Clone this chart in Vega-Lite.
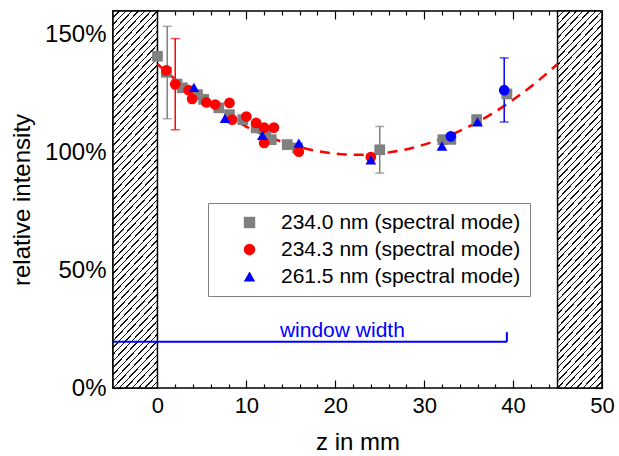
{
"$schema": "https://vega.github.io/schema/vega-lite/v6.json",
"width": 489, "height": 377,
"autosize": {"type": "none"},
"padding": {"left": 113, "top": 11, "right": 17, "bottom": 68},
"background": "white",
"config": {
 "view": {"stroke": "black", "strokeWidth": 1.5},
 "axis": {"domain": false, "grid": false, "labelFont": "Liberation Sans", "titleFont": "Liberation Sans", "labelFontSize": 22, "titleFontSize": 24, "titleFontWeight": "normal", "labelColor": "black", "titleColor": "black", "tickColor": "black", "tickWidth": 1.2, "zindex": 1}
},
"datasets": {
 "hatch": [{"z0": -5, "z1": 0}, {"z0": 45, "z1": 50}],
 "bands": [
  {"z0": -5, "z1": 0, "v0": 0, "v1": 20}, {"z0": -5, "z1": 0, "v0": 20, "v1": 40}, {"z0": -5, "z1": 0, "v0": 40, "v1": 60}, {"z0": -5, "z1": 0, "v0": 60, "v1": 80},
  {"z0": -5, "z1": 0, "v0": 80, "v1": 100}, {"z0": -5, "z1": 0, "v0": 100, "v1": 120}, {"z0": -5, "z1": 0, "v0": 120, "v1": 140}, {"z0": -5, "z1": 0, "v0": 140, "v1": 160},
  {"z0": 45, "z1": 50, "v0": 0, "v1": 20}, {"z0": 45, "z1": 50, "v0": 20, "v1": 40}, {"z0": 45, "z1": 50, "v0": 40, "v1": 60}, {"z0": 45, "z1": 50, "v0": 60, "v1": 80},
  {"z0": 45, "z1": 50, "v0": 80, "v1": 100}, {"z0": 45, "z1": 50, "v0": 100, "v1": 120}, {"z0": 45, "z1": 50, "v0": 120, "v1": 140}, {"z0": 45, "z1": 50, "v0": 140, "v1": 160}
 ],
 "curve": [
  {"z": 0, "v": 137.5}, {"z": 2.5, "v": 129.4}, {"z": 5, "v": 122.3}, {"z": 7.5, "v": 116.1}, {"z": 10, "v": 110.9},
  {"z": 12.5, "v": 106.6}, {"z": 15, "v": 103.3}, {"z": 17.5, "v": 100.9}, {"z": 20, "v": 99.5}, {"z": 22.5, "v": 99},
  {"z": 25, "v": 99.5}, {"z": 27.5, "v": 100.9}, {"z": 30, "v": 103.3}, {"z": 32.5, "v": 106.6}, {"z": 35, "v": 110.9},
  {"z": 37.5, "v": 116.1}, {"z": 40, "v": 122.3}, {"z": 42.5, "v": 129.4}, {"z": 45, "v": 137.5}
 ],
 "err": [
  {"s": "234.0 nm (spectral mode)", "z": 1.1, "lo": 114.3, "hi": 153.5},
  {"s": "234.3 nm (spectral mode)", "z": 2.0, "lo": 109.6, "hi": 148.3},
  {"s": "234.0 nm (spectral mode)", "z": 25, "lo": 91.2, "hi": 111},
  {"s": "261.5 nm (spectral mode)", "z": 39, "lo": 112.9, "hi": 140.1}
 ],
 "pts": [
  {"s": "234.0 nm (spectral mode)", "z": 0, "v": 140.8},
  {"s": "234.0 nm (spectral mode)", "z": 1, "v": 134},
  {"s": "234.0 nm (spectral mode)", "z": 2.2, "v": 129},
  {"s": "234.0 nm (spectral mode)", "z": 2.8, "v": 127.4},
  {"s": "234.0 nm (spectral mode)", "z": 4.5, "v": 124.5},
  {"s": "234.0 nm (spectral mode)", "z": 5.2, "v": 122.5},
  {"s": "234.0 nm (spectral mode)", "z": 6.9, "v": 118.9},
  {"s": "234.0 nm (spectral mode)", "z": 8.1, "v": 116},
  {"s": "234.0 nm (spectral mode)", "z": 9.6, "v": 113.9},
  {"s": "234.0 nm (spectral mode)", "z": 11.1, "v": 110.4},
  {"s": "234.0 nm (spectral mode)", "z": 12.2, "v": 108},
  {"s": "234.0 nm (spectral mode)", "z": 12.8, "v": 105.4},
  {"s": "234.0 nm (spectral mode)", "z": 14.6, "v": 103.3},
  {"s": "234.0 nm (spectral mode)", "z": 15.75, "v": 101.9},
  {"s": "234.0 nm (spectral mode)", "z": 25, "v": 101.1},
  {"s": "234.0 nm (spectral mode)", "z": 32.1, "v": 105.4},
  {"s": "234.0 nm (spectral mode)", "z": 33, "v": 105.5},
  {"s": "234.0 nm (spectral mode)", "z": 35.9, "v": 113.9},
  {"s": "234.0 nm (spectral mode)", "z": 39.3, "v": 124.8},
  {"s": "234.3 nm (spectral mode)", "z": 0, "v": 163},
  {"s": "234.3 nm (spectral mode)", "z": 1, "v": 134.8},
  {"s": "234.3 nm (spectral mode)", "z": 2, "v": 128.9},
  {"s": "234.3 nm (spectral mode)", "z": 3.5, "v": 126.4},
  {"s": "234.3 nm (spectral mode)", "z": 3.9, "v": 122.7},
  {"s": "234.3 nm (spectral mode)", "z": 5.5, "v": 121.2},
  {"s": "234.3 nm (spectral mode)", "z": 6.5, "v": 120.3},
  {"s": "234.3 nm (spectral mode)", "z": 8.1, "v": 121},
  {"s": "234.3 nm (spectral mode)", "z": 8.4, "v": 113.9},
  {"s": "234.3 nm (spectral mode)", "z": 10, "v": 115.2},
  {"s": "234.3 nm (spectral mode)", "z": 11.1, "v": 112.5},
  {"s": "234.3 nm (spectral mode)", "z": 12, "v": 110.5},
  {"s": "234.3 nm (spectral mode)", "z": 13.1, "v": 110.5},
  {"s": "234.3 nm (spectral mode)", "z": 12, "v": 104},
  {"s": "234.3 nm (spectral mode)", "z": 15.9, "v": 100.3},
  {"s": "234.3 nm (spectral mode)", "z": 24, "v": 98},
  {"s": "261.5 nm (spectral mode)", "z": 4.1, "v": 127.6},
  {"s": "261.5 nm (spectral mode)", "z": 7.6, "v": 114.4},
  {"s": "261.5 nm (spectral mode)", "z": 11.8, "v": 107.2},
  {"s": "261.5 nm (spectral mode)", "z": 15.9, "v": 103.9},
  {"s": "261.5 nm (spectral mode)", "z": 24, "v": 96.8},
  {"s": "261.5 nm (spectral mode)", "z": 32, "v": 102.7},
  {"s": "261.5 nm (spectral mode)", "z": 36, "v": 112.9}
 ],
 "bc": [{"z": 33, "v": 106.8}, {"z": 39, "v": 126.4}],
 "win": [{"z0": -5, "z1": 39.3, "v": 19.6, "v2": 23.7, "tz": 20.8, "tv": 21.6, "label": "window width"}]
},
"layer": [
 {
  "data": {"name": "bands"},
  "mark": {"type": "rect", "strokeWidth": 0,
   "fill": {"gradient": "linear", "x1": 0, "y1": 0, "x2": 1, "y2": 1, "stops": [
    {"offset": 0, "color": "#111"}, {"offset": 0.008, "color": "#111"}, {"offset": 0.008, "color": "white"},
    {"offset": 0.0634, "color": "white"}, {"offset": 0.0634, "color": "#111"}, {"offset": 0.0794, "color": "#111"}, {"offset": 0.0794, "color": "white"},
    {"offset": 0.1349, "color": "white"}, {"offset": 0.1349, "color": "#111"}, {"offset": 0.1509, "color": "#111"}, {"offset": 0.1509, "color": "white"},
    {"offset": 0.2063, "color": "white"}, {"offset": 0.2063, "color": "#111"}, {"offset": 0.2223, "color": "#111"}, {"offset": 0.2223, "color": "white"},
    {"offset": 0.2777, "color": "white"}, {"offset": 0.2777, "color": "#111"}, {"offset": 0.2937, "color": "#111"}, {"offset": 0.2937, "color": "white"},
    {"offset": 0.3491, "color": "white"}, {"offset": 0.3491, "color": "#111"}, {"offset": 0.3651, "color": "#111"}, {"offset": 0.3651, "color": "white"},
    {"offset": 0.4206, "color": "white"}, {"offset": 0.4206, "color": "#111"}, {"offset": 0.4366, "color": "#111"}, {"offset": 0.4366, "color": "white"},
    {"offset": 0.492, "color": "white"}, {"offset": 0.492, "color": "#111"}, {"offset": 0.508, "color": "#111"}, {"offset": 0.508, "color": "white"},
    {"offset": 0.5634, "color": "white"}, {"offset": 0.5634, "color": "#111"}, {"offset": 0.5794, "color": "#111"}, {"offset": 0.5794, "color": "white"},
    {"offset": 0.6349, "color": "white"}, {"offset": 0.6349, "color": "#111"}, {"offset": 0.6509, "color": "#111"}, {"offset": 0.6509, "color": "white"},
    {"offset": 0.7063, "color": "white"}, {"offset": 0.7063, "color": "#111"}, {"offset": 0.7223, "color": "#111"}, {"offset": 0.7223, "color": "white"},
    {"offset": 0.7777, "color": "white"}, {"offset": 0.7777, "color": "#111"}, {"offset": 0.7937, "color": "#111"}, {"offset": 0.7937, "color": "white"},
    {"offset": 0.8491, "color": "white"}, {"offset": 0.8491, "color": "#111"}, {"offset": 0.8651, "color": "#111"}, {"offset": 0.8651, "color": "white"},
    {"offset": 0.9206, "color": "white"}, {"offset": 0.9206, "color": "#111"}, {"offset": 0.9366, "color": "#111"}, {"offset": 0.9366, "color": "white"},
    {"offset": 0.992, "color": "white"}, {"offset": 0.992, "color": "#111"}, {"offset": 1, "color": "#111"}
   ]}},
  "encoding": {
   "x": {"field": "z0", "type": "quantitative", "axis": null},
   "x2": {"field": "z1"},
   "y": {"field": "v0", "type": "quantitative", "axis": null},
   "y2": {"field": "v1"}
  }
 },
 {
  "data": {"name": "hatch"},
  "mark": {"type": "rect", "stroke": "black", "strokeWidth": 1.5, "fill": null, "fillOpacity": 0},
  "encoding": {
   "x": {"field": "z0", "type": "quantitative", "scale": {"domain": [-5, 50], "nice": false, "zero": false},
    "axis": {"orient": "bottom", "title": "z in mm", "values": [0,2,4,6,8,10,12,14,16,18,20,22,24,26,28,30,32,34,36,38,40,42,44,50],
     "labelExpr": "datum.value % 10 === 0 ? datum.label : ''", "labelPadding": 15, "titlePadding": 14, "labelFlush": false,
     "tickSize": {"condition": {"test": "datum.value % 10 === 0", "value": -8}, "value": -4}}},
   "x2": {"field": "z1"},
   "y": {"datum": 0, "type": "quantitative", "scale": {"domain": [0, 160], "nice": false, "zero": false},
    "axis": {"orient": "left", "title": "relative intensity", "values": [0,25,50,75,100,125,150], "labelFontSize": 24,
     "labelExpr": "datum.value % 50 === 0 ? datum.value + '%' : ''", "labelPadding": 15, "titlePadding": 10, "labelFlush": false,
     "tickSize": {"condition": {"test": "datum.value % 50 === 0", "value": -8}, "value": -4}}},
   "y2": {"datum": 160}
  }
 },
 {
  "data": {"name": "curve"},
  "mark": {"type": "line", "color": "#ff0000", "strokeWidth": 2.5, "strokeDash": [10, 7], "interpolate": "monotone"},
  "encoding": {
   "x": {"field": "z", "type": "quantitative",
    "axis": {"orient": "top", "title": null, "labels": false, "values": [0,2,4,6,8,10,12,14,16,18,20,22,24,26,28,30,32,34,36,38,40,42,44,50],
     "tickSize": {"condition": {"test": "datum.value % 10 === 0", "value": -8}, "value": -4}}},
   "y": {"field": "v", "type": "quantitative",
    "axis": {"orient": "right", "title": null, "labels": false, "values": [0,25,50,75,100,125,150],
     "tickSize": {"condition": {"test": "datum.value % 50 === 0", "value": -8}, "value": -4}}}
  }
 },
 {
  "data": {"name": "win"},
  "mark": {"type": "rule", "color": "#0000ff", "strokeWidth": 2},
  "encoding": {
   "x": {"field": "z0", "type": "quantitative", "axis": null},
   "x2": {"field": "z1"},
   "y": {"field": "v", "type": "quantitative", "axis": null}
  }
 },
 {
  "data": {"name": "win"},
  "mark": {"type": "rule", "color": "#0000ff", "strokeWidth": 2},
  "encoding": {
   "x": {"field": "z1", "type": "quantitative", "axis": null},
   "y": {"field": "v", "type": "quantitative", "axis": null},
   "y2": {"field": "v2"}
  }
 },
 {
  "data": {"name": "win"},
  "mark": {"type": "text", "color": "#0000ff", "font": "Liberation Sans", "fontSize": 21, "align": "center", "baseline": "alphabetic"},
  "encoding": {
   "x": {"field": "tz", "type": "quantitative", "axis": null},
   "y": {"field": "tv", "type": "quantitative", "axis": null},
   "text": {"field": "label"}
  }
 },
 {
  "data": {"name": "err"},
  "mark": {"type": "rule", "strokeWidth": 1.5},
  "encoding": {
   "x": {"field": "z", "type": "quantitative", "axis": null},
   "y": {"field": "lo", "type": "quantitative", "axis": null},
   "y2": {"field": "hi"},
   "color": {"field": "s", "type": "nominal", "legend": null}
  }
 },
 {
  "data": {"name": "err"},
  "transform": [{"fold": ["lo", "hi"], "as": ["end", "val"]}],
  "mark": {"type": "tick", "orient": "horizontal", "size": 9, "thickness": 1.5},
  "encoding": {
   "x": {"field": "z", "type": "quantitative", "axis": null},
   "y": {"field": "val", "type": "quantitative", "axis": null},
   "color": {"field": "s", "type": "nominal", "legend": null}
  }
 },
 {
  "data": {"name": "pts"},
  "mark": {"type": "point", "filled": true, "opacity": 1, "size": 115, "clip": true},
  "encoding": {
   "x": {"field": "z", "type": "quantitative", "axis": null},
   "y": {"field": "v", "type": "quantitative", "axis": null},
   "color": {"field": "s", "type": "nominal",
    "scale": {"domain": ["234.0 nm (spectral mode)", "234.3 nm (spectral mode)", "261.5 nm (spectral mode)"], "range": ["#808080", "#ff0000", "#0000ff"]},
    "legend": {"orient": "none", "legendX": 95, "legendY": 192, "title": null, "fillColor": "white", "strokeColor": "#808080",
     "padding": 9, "labelFont": "Liberation Sans", "labelFontSize": 21, "labelColor": "black", "labelLimit": 400, "symbolSize": 130, "rowPadding": 5,
     "symbolOffset": 22, "labelOffset": 21, "symbolStrokeWidth": 0}},
   "shape": {"field": "s", "type": "nominal",
    "scale": {"domain": ["234.0 nm (spectral mode)", "234.3 nm (spectral mode)", "261.5 nm (spectral mode)"], "range": ["square", "circle", "triangle-up"]}}
  }
 },
 {
  "data": {"name": "bc"},
  "mark": {"type": "point", "filled": true, "opacity": 1, "size": 115, "shape": "circle", "color": "#0000ff"},
  "encoding": {
   "x": {"field": "z", "type": "quantitative", "axis": null},
   "y": {"field": "v", "type": "quantitative", "axis": null}
  }
 }
],
"resolve": {"axis": {"x": "independent", "y": "independent"}, "legend": {"color": "independent", "shape": "independent"}}
}
